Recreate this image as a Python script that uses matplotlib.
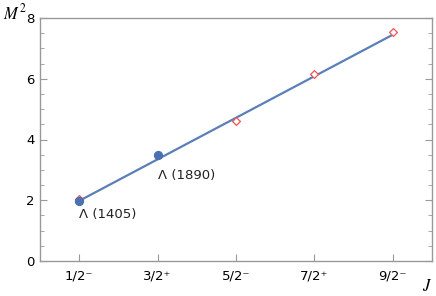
import matplotlib
matplotlib.use("Agg")
import matplotlib.pyplot as plt
import numpy as np
from matplotlib.ticker import MultipleLocator

plt.rcParams["mathtext.fontset"] = "stix"

# Data
j_labels = ["1/2\u207b", "3/2\u207a", "5/2\u207b", "7/2\u207a", "9/2\u207b"]
blue_x = [1, 2]
blue_m2 = [1.97, 3.49]
blue_names = ["\u039b (1405)", "\u039b (1890)"]
red_x = [1, 3, 4, 5]
red_m2 = [2.03, 4.61, 6.16, 7.54]
line_x = [1, 5]
line_m2 = [1.98, 7.45]

fig = plt.figure(figsize=(4.36, 2.96), dpi=100)
ax = fig.add_axes([40/436, 1-261/296, 392/436, 243/296])

ax.plot(line_x, line_m2, color="#5b7fb8", lw=1.6, zorder=2)
ax.scatter(red_x, red_m2, marker="D", s=16, facecolors="white", edgecolors="#ee5555", lw=0.9, zorder=3)
ax.scatter(blue_x, blue_m2, marker="o", s=32, color="#4a72b0", zorder=4)

ax.annotate(blue_names[0], (blue_x[0], blue_m2[0]), xytext=(0, -9.5), textcoords="offset points",
            ha="left", va="center", fontsize=9.5, color="#222222", family="DejaVu Sans")
ax.annotate(blue_names[1], (blue_x[1], blue_m2[1]), xytext=(0, -15), textcoords="offset points",
            ha="left", va="center", fontsize=9.5, color="#222222", family="DejaVu Sans")

ax.set_xlim(0.5, 5.5)
ax.set_ylim(0, 8)
ax.set_xticks(range(1, 6))
ax.set_xticklabels(j_labels, fontsize=9.5)
ax.yaxis.set_major_locator(MultipleLocator(2))
ax.yaxis.set_minor_locator(MultipleLocator(0.5))
ax.tick_params(axis="y", which="both", direction="in", right=True, left=True, labelsize=9.5, color="#999999", pad=4)
ax.tick_params(axis="y", which="major", length=5)
ax.tick_params(axis="y", which="minor", length=3)
ax.tick_params(axis="x", which="major", direction="in", length=5, color="#999999", labelsize=9.5, pad=6)
for s in ax.spines.values():
    s.set_color("#999999")
    s.set_linewidth(1.0)

fig.text(3/436, 1-13/296, "$M^2$", fontsize=12, va="center", ha="left")
fig.text(427/436, 1-286/296, "$J$", fontsize=12, va="center", ha="center")

fig.savefig("out.png", dpi=100)
